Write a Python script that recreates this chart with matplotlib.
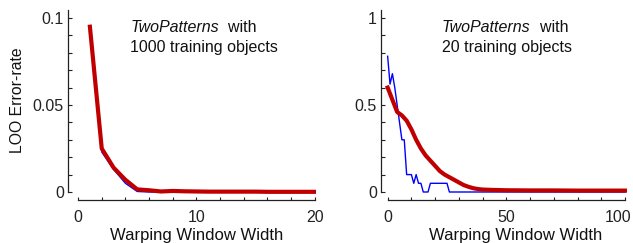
import numpy as np
import matplotlib
matplotlib.use("Agg")
import matplotlib.pyplot as plt
from matplotlib.ticker import MultipleLocator
from matplotlib.transforms import ScaledTranslation

plt.rcParams['font.family'] = ['Liberation Sans', 'DejaVu Sans']

# left panel: 1000 training objects
w_left = [1, 2, 3, 4, 5, 6, 7, 8, 9, 10, 11, 12, 13, 14, 15, 16, 17, 18, 19, 20]
blue_left = [0.093, 0.023, 0.013, 0.005, 0.0003, 0, 0, 0, 0, 0,
             0, 0, 0, 0, 0, 0, 0, 0, 0, 0]
red_left = [0.095, 0.025, 0.014, 0.007, 0.0015, 0.001, 0.0003, 0.0006, 0.0004, 0.0003,
            0.0002, 0.0002, 0.0002, 0.0002, 0.0002, 0.0001, 0.0001, 0.0001, 0.0001, 0.0001]

# right panel: 20 training objects
w_blue_right = [0, 1, 2, 3, 4, 5, 6, 7, 8, 9, 10, 11, 12, 13, 14, 15, 16, 17, 18, 25, 26, 100]
blue_right = [0.78, 0.62, 0.68, 0.6, 0.5, 0.4, 0.3, 0.3, 0.1, 0.1, 0.1, 0.05, 0.1, 0.05,
              0.05, 0, 0, 0, 0.05, 0.05, 0, 0]
w_red_right = [0, 2, 4, 6, 8, 10, 12, 14, 16, 18, 20, 22, 24, 26, 28, 30, 32, 34, 36, 38,
               40, 44, 50, 60, 70, 80, 90, 100]
red_right = [0.60, 0.53, 0.46, 0.44, 0.41, 0.36, 0.30, 0.25, 0.21, 0.18, 0.15, 0.12, 0.10,
             0.085, 0.07, 0.055, 0.04, 0.03, 0.022, 0.017, 0.014, 0.012, 0.010, 0.009,
             0.009, 0.008, 0.008, 0.008]

fig = plt.figure(figsize=(6.33, 2.43), dpi=100)
W, H = 633, 243

def make_axes(x0, x1, y0, y1):
    return fig.add_axes([x0 / W, 1 - y1 / H, (x1 - x0) / W, (y1 - y0) / H])

red = '#c00000'
axL = make_axes(68, 316, 10, 200)
axR = make_axes(381, 627, 10, 200)

axL.plot(w_left, blue_left, color='#0000ff', lw=1)
axL.plot(w_left, red_left, color=red, lw=3)
axR.plot(w_blue_right, blue_right, color='#0000ff', lw=1)
axR.plot(w_red_right, red_right, color=red, lw=3)

axL.set_xlim(-0.85, 20.1)
axL.set_ylim(-0.0046, 0.1046)
axR.set_xlim(-2.8, 100.8)
axR.set_ylim(-0.046, 1.046)

for ax, xmaj, xmin, ymaj, ymin, xmax_, ymax_ in [
        (axL, 10, 2, 0.05, 0.01, 20, 0.1046),
        (axR, 50, 10, 0.5, 0.1, 100, 1.046)]:
    ax.spines['top'].set_visible(False)
    ax.spines['right'].set_visible(False)
    ax.spines['bottom'].set_bounds(0, xmax_)
    ax.spines['left'].set_bounds(0, ymax_)
    for s in ('left', 'bottom'):
        ax.spines[s].set_color('#222222')
        ax.spines[s].set_linewidth(0.9)
    ax.xaxis.set_major_locator(MultipleLocator(xmaj))
    ax.xaxis.set_minor_locator(MultipleLocator(xmin))
    ax.yaxis.set_major_locator(MultipleLocator(ymaj))
    ax.yaxis.set_minor_locator(MultipleLocator(ymin))
    ax.tick_params(axis='both', which='both', direction='in', colors='#222222',
                   labelsize=11.5, width=0.8)
    ax.tick_params(axis='y', which='both', length=3, pad=3)
    ax.tick_params(axis='x', which='both', length=2, pad=7)
    ax.patch.set_visible(False)

axL.set_yticks([0, 0.05, 0.1])
axL.set_yticklabels(['0', '0.05', '0.1'])
axR.set_yticks([0, 0.5, 1])
axR.set_yticklabels(['0', '0.5', '1'])
axR.set_xticks([0, 50, 100])
axR.set_xticklabels(['0', '50', '100'])

# keep the "100" label inside the figure, as in the reference
last = axR.get_xticklabels()[-1]
last.set_transform(last.get_transform() + ScaledTranslation(-5 / 72, 0, fig.dpi_scale_trans))

def label_block(ax, x, y1, y2, line2):
    t = ax.text(x, y1, 'TwoPatterns', style='italic', fontsize=11.5, va='center', ha='left',
                color='#111111')
    ax.annotate('  with', xy=(1, 0.5), xycoords=t, va='center', ha='left',
                fontsize=11.5, color='#111111')
    ax.text(x, y2, line2, fontsize=11.5, va='center', ha='left', color='#111111')

label_block(axL, 4.4, 0.0948, 0.0833, '1000 training objects')
label_block(axR, 22.9, 0.948, 0.833, '20 training objects')

fig.text(18 / W, 1 - 100 / H, 'LOO Error-rate', rotation=90, ha='center', va='center',
         fontsize=11.3, color='#111111')
fig.text(197 / W, (H - 239.5) / H, 'Warping Window Width', ha='center', va='baseline',
         fontsize=12, color='#111111')
fig.text(516 / W, (H - 239.5) / H, 'Warping Window Width', ha='center', va='baseline',
         fontsize=12, color='#111111')

fig.savefig('out.png', dpi=100)
